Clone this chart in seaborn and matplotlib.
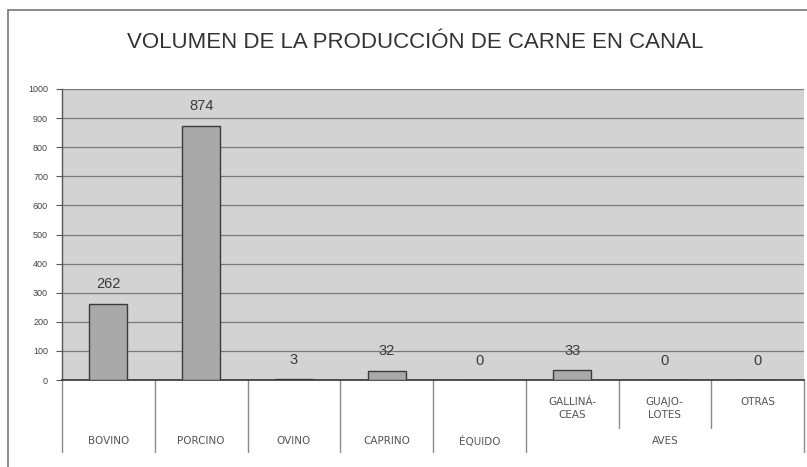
import matplotlib
matplotlib.use("Agg")
import matplotlib.pyplot as plt
import matplotlib.transforms as mtransforms
import seaborn as sns
import pandas as pd

# Carcass meat production volume by species
categories = ["BOVINO", "PORCINO", "OVINO", "CAPRINO", "ÉQUIDO",
              "GALLINÁCEAS", "GUAJOLOTES", "OTRAS"]
values = [262, 874, 3, 32, 0, 33, 0, 0]
# Lower row of the category table (group names) and upper row (poultry breakdown)
group_labels = ["BOVINO", "PORCINO", "OVINO", "CAPRINO", "ÉQUIDO", "AVES"]
group_spans = [(0, 0), (1, 1), (2, 2), (3, 3), (4, 4), (5, 7)]
sub_labels = {5: "GALLINÁ-\nCEAS", 6: "GUAJO-\nLOTES", 7: "OTRAS"}
y_ticks = list(range(0, 1001, 100))
title = "VOLUMEN DE LA PRODUCCIÓN DE CARNE EN CANAL"

df = pd.DataFrame({"categoria": categories, "volumen": values})

sns.set_theme(style="white")
plt.rcParams["font.family"] = ["Liberation Sans", "DejaVu Sans"]

W, H = 807, 467
fig = plt.figure(figsize=(W / 100, H / 100), dpi=100)
fig.patch.set_facecolor("white")

x0, x1, ytop, ybot = 62, 804, 89, 380
ax = fig.add_axes([x0 / W, 1 - ybot / H, (x1 - x0) / W, (ybot - ytop) / H])
ax.set_facecolor("#d3d3d3")

sns.barplot(data=df, x="categoria", y="volumen", ax=ax, color="#a9a9a9",
            width=0.41, edgecolor="#3a3a3a", linewidth=1.0, saturation=1,
            zorder=3)

ax.set_ylim(0, 1000)
ax.set_xlim(-0.5, len(categories) - 0.5)
ax.set_yticks(y_ticks)
ax.set_yticklabels([str(t) for t in y_ticks], fontsize=6.5, color="#444444")
ax.tick_params(axis="y", length=4, width=0.8, color="#555555", pad=6, left=True)
ax.tick_params(axis="x", bottom=False, labelbottom=False)
ax.set_xlabel("")
ax.set_ylabel("")
ax.yaxis.grid(True, color="#7a7a7a", linewidth=0.9)
ax.set_axisbelow(True)

for side in ["top", "right"]:
    ax.spines[side].set_visible(False)
ax.spines["left"].set_color("#555555")
ax.spines["left"].set_linewidth(1.0)
ax.spines["bottom"].set_color("#333333")
ax.spines["bottom"].set_linewidth(1.2)

# Value labels above each bar
for i, v in enumerate(values):
    ax.annotate(str(v), xy=(i, v), xytext=(0, 14), textcoords="offset points",
                ha="center", va="center", fontsize=10.5, color="#3a3a3a")

# Category table below the axis
trans = mtransforms.blended_transform_factory(ax.transData, ax.transAxes)
full_depth = -(452 - ybot) / (ybot - ytop)
short_depth = -(428 - ybot) / (ybot - ytop)
line_kw = dict(transform=trans, clip_on=False, color="#8a8a8a", linewidth=1.0)
for b in range(len(categories) + 1):
    xb = b - 0.5
    depth = short_depth if b in (6, 7) else full_depth
    ax.plot([xb, xb], [0, depth], **line_kw)

table_font = dict(family=["DejaVu Sans"], fontsize=7.5, color="#555555")
label_y = -(441 - ybot) / (ybot - ytop)
for name, (a, b) in zip(group_labels, group_spans):
    ax.text((a + b) / 2, label_y, name, transform=trans, ha="center",
            va="center", **table_font)

sub_y = -(397 - ybot) / (ybot - ytop)
for i, name in sub_labels.items():
    ax.text(i, sub_y, name, transform=trans, ha="center", va="top",
            linespacing=1.4, **table_font)

# Page frame lines
fig.add_artist(plt.Line2D([8 / W, 8 / W], [0, 1 - 10 / H], color="#777777",
                          linewidth=1.2, transform=fig.transFigure))
fig.add_artist(plt.Line2D([8 / W, 1], [1 - 10 / H, 1 - 10 / H], color="#777777",
                          linewidth=1.2, transform=fig.transFigure))

fig.text(415 / W, 1 - 42 / H, title, ha="center", va="center",
         fontsize=16, color="#333333")

fig.savefig("out.png", dpi=100)
